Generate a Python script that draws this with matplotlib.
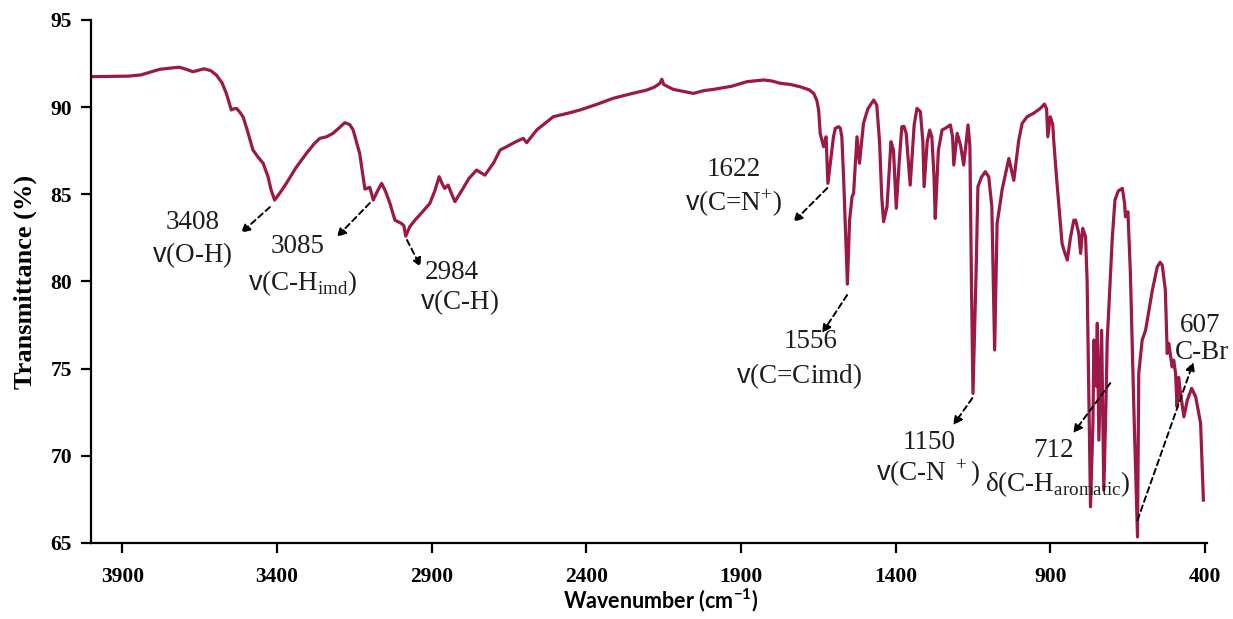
import matplotlib.pyplot as plt

plt.rcParams['mathtext.fontset'] = 'custom'
plt.rcParams['mathtext.rm'] = 'Liberation Serif'
plt.rcParams['mathtext.sf'] = 'Liberation Sans'
plt.rcParams['mathtext.bf'] = 'Lato:bold'

# FTIR spectrum, read as (wavenumber, transmittance) pairs
wavenumber = [
    4000, 3880, 3840, 3780, 3740, 3715, 3690, 3672, 3637, 3615, 3596, 3578,
    3564, 3548, 3540, 3531, 3520, 3510, 3495, 3478, 3460, 3445, 3429, 3420,
    3408, 3390, 3370, 3340, 3305, 3280, 3262, 3240, 3219, 3200, 3181, 3165,
    3154, 3133, 3116, 3100, 3089, 3075, 3062, 3050, 3035, 3019, 2998, 2990,
    2984, 2971, 2955, 2939, 2906, 2890, 2876, 2866, 2858, 2847, 2835, 2825,
    2800, 2780, 2755, 2728, 2700, 2679, 2658, 2630, 2604, 2593, 2560, 2507,
    2460, 2420, 2360, 2313, 2260, 2205, 2180, 2162, 2156, 2150, 2119, 2085,
    2054, 2020, 1989, 1930, 1881, 1827, 1800, 1773, 1740, 1709, 1680, 1665,
    1655, 1649, 1644, 1633, 1625, 1619, 1601, 1595, 1584, 1579, 1574, 1568,
    1556, 1549, 1541, 1536, 1525, 1517, 1504, 1490, 1471, 1461, 1452, 1445,
    1439, 1428, 1415, 1407, 1398, 1388, 1380, 1373, 1366, 1353, 1340, 1331,
    1320, 1312, 1308, 1298, 1290, 1283, 1276, 1272, 1262, 1250, 1239, 1223,
    1216, 1212, 1201, 1190, 1180, 1166, 1160, 1155, 1150, 1140, 1134, 1122,
    1110, 1099, 1089, 1080, 1072, 1062, 1056, 1034, 1018, 1002, 991, 975,
    954, 932, 919, 912, 908, 900, 892, 889, 880, 862, 856, 845,
    835, 824, 818, 808, 802, 795, 786, 781, 770, 762, 759, 752,
    748, 743, 734, 727, 720, 716, 711, 700, 691, 680, 667, 660,
    657, 649, 641, 630, 618, 614, 603, 592, 570, 554, 545, 538,
    528, 522, 517, 506, 501, 495, 490, 485, 479, 468, 457, 443,
    430, 414, 405,
]
transmittance = [
    91.75, 91.78, 91.85, 92.17, 92.25, 92.29, 92.15, 92.03, 92.20, 92.10, 91.84, 91.40,
    90.79, 89.84, 89.90, 89.93, 89.70, 89.45, 88.60, 87.54, 87.10, 86.78, 86.00, 85.30,
    84.67, 85.10, 85.63, 86.50, 87.35, 87.90, 88.21, 88.30, 88.50, 88.80, 89.11, 89.00,
    88.69, 87.35, 85.30, 85.40, 84.67, 85.20, 85.63, 85.20, 84.48, 83.52, 83.33, 83.20,
    82.60, 83.14, 83.50, 83.81, 84.48, 85.20, 86.01, 85.60, 85.34, 85.53, 85.00, 84.58,
    85.30, 85.90, 86.39, 86.10, 86.80, 87.54, 87.73, 88.00, 88.21, 87.96, 88.70, 89.45,
    89.65, 89.84, 90.20, 90.51, 90.75, 90.98, 91.15, 91.37, 91.60, 91.30, 91.02, 90.90,
    90.79, 90.95, 91.02, 91.20, 91.46, 91.56, 91.50, 91.37, 91.30, 91.17, 91.00, 90.79,
    90.40, 89.84, 88.50, 87.73, 88.30, 85.63, 88.30, 88.79, 88.88, 88.79, 88.30, 85.82,
    79.85, 83.50, 84.86, 85.06, 88.30, 86.78, 89.07, 89.90, 90.41, 90.12, 88.00, 84.86,
    83.43, 84.29, 88.02, 87.54, 84.20, 87.00, 88.88, 88.90, 88.50, 85.53, 89.00, 89.93,
    89.74, 88.00, 85.44, 88.00, 88.69, 88.30, 86.00, 83.62, 87.50, 88.69, 88.79, 88.98,
    88.30, 86.68, 88.50, 87.80, 86.68, 88.98, 87.80, 80.00, 73.58, 80.47, 85.44, 86.00,
    86.30, 86.00, 84.29, 76.07, 83.33, 84.50, 85.25, 87.06, 85.80, 88.10, 89.07, 89.45,
    89.65, 89.93, 90.18, 89.90, 88.30, 89.45, 89.00, 88.10, 86.00, 82.19, 81.80, 81.23,
    82.50, 83.52, 83.52, 82.76, 81.61, 83.05, 82.57, 80.08, 67.08, 72.00, 76.64, 74.00,
    77.60, 70.90, 77.20, 68.03, 73.00, 76.64, 78.36, 82.38, 84.67, 85.20, 85.34, 84.50,
    83.71, 84.00, 80.47, 72.82, 65.35, 74.73, 76.64, 77.20, 79.50, 80.85, 81.10, 80.94,
    79.50, 75.87, 76.45, 75.10, 75.49, 74.73, 72.82, 74.50, 73.58, 72.24, 73.20, 73.87,
    73.39, 71.86, 67.46,
]

# band assignments: number, assignment, text positions and arrow (tail -> head)
band_numbers = ['3408', '3085', '2984', '1622', '1556', '1150', '712', '607']
band_names = [
    r'$\mathsf{v}$(O-H)',
    r'$\mathsf{v}$(C-H$_{\mathrm{imd}}$)',
    r'$\mathsf{v}$(C-H)',
    r'$\mathsf{v}$(C=N$^{+}$)',
    r'$\mathsf{v}$(C=Cimd)',
    r'$\mathsf{v}$(C-N$^{\ +}$)',
    r'δ(C-H$_{\mathrm{aromatic}}$)',
    'C-Br',
]
number_xy = [(3673, 83.41), (3333, 82.0), (2835, 80.54), (1925, 86.45),
             (1676, 76.58), (1291, 70.79), (890, 70.33), (415, 77.5)]
name_xy = [(3673, 81.52), (3317, 79.91), (2809, 78.82), (1925, 84.5),
           (1712, 74.58), (1295, 69.01), (874, 68.38), (408, 75.9)]
arrow_tail = [(3423, 84.27), (3100, 84.5), (2980, 82.38), (1621, 85.36),
              (1557, 79.22), (1152, 73.31), (706, 74.17), (618, 66.31)]
arrow_head = [(3517, 82.78), (3207, 82.55), (2935, 80.83), (1731, 83.41),
              (1638, 77.04), (1214, 71.76), (826, 71.3), (437, 75.38)]

fig = plt.figure(figsize=(12.33, 6.19), dpi=100)
ax = fig.add_axes([0.0742, 0.1228, 0.9048, 0.8449])

ax.plot(wavenumber, transmittance, color='#9b1848', lw=2.3, solid_joinstyle='round')

ax.set_xlim(4000, 393)
ax.set_ylim(65, 95)
ax.set_xticks([3900, 3400, 2900, 2400, 1900, 1400, 900, 400])
ax.set_yticks([65, 70, 75, 80, 85, 90, 95])

for side in ['top', 'right']:
    ax.spines[side].set_visible(False)
for side in ['left', 'bottom']:
    ax.spines[side].set_linewidth(1.6)
ax.tick_params(direction='out', length=7, width=1.6)
ax.tick_params(axis='x', pad=10)
ax.tick_params(axis='y', pad=7)
for lab in ax.get_xticklabels() + ax.get_yticklabels():
    lab.set_fontfamily('Liberation Serif')
    lab.set_fontweight('bold')
    lab.set_fontsize(15.5)

ax.set_ylabel('Transmittance (%)', family='Liberation Serif', weight='bold', fontsize=19)
ax.yaxis.set_label_coords(-0.049, 0.5)
ax.set_xlabel(r'Wavenumber (cm$^{\mathbf{-1}}$)', family='Lato', weight='bold', fontsize=15.5)
ax.xaxis.set_label_coords(0.51, -0.083)

for num, name, nxy, mxy, tail, head in zip(band_numbers, band_names, number_xy,
                                           name_xy, arrow_tail, arrow_head):
    ax.text(nxy[0], nxy[1], num, family='Liberation Serif', fontsize=19.5,
            ha='center', va='center', color='#1e1e1e')
    ax.text(mxy[0], mxy[1], name, family='Liberation Serif', fontsize=19.5,
            ha='center', va='center', color='#1e1e1e')
    ax.annotate('', xy=head, xytext=tail,
                arrowprops=dict(arrowstyle='-|>', linestyle=(0, (3, 2)), color='black',
                                lw=1.4, mutation_scale=13, shrinkA=0, shrinkB=0))

fig.savefig('out.png', dpi=100)
